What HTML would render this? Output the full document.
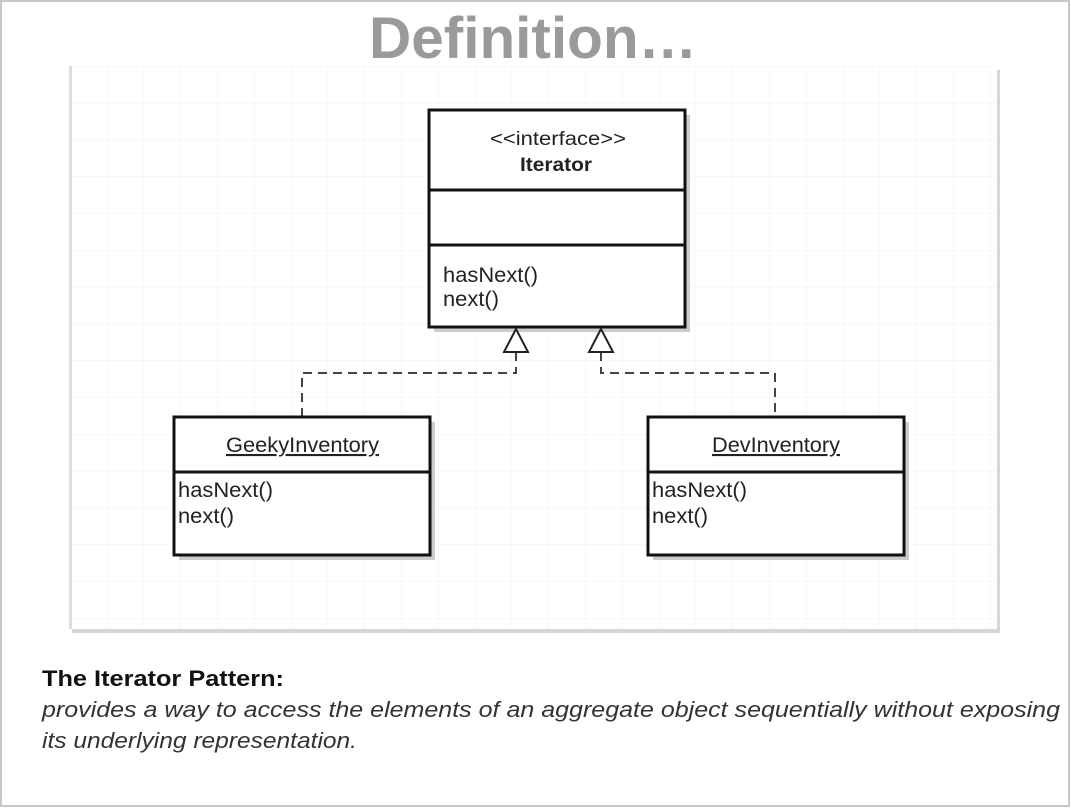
<!DOCTYPE html>
<html><head><style>
html,body{margin:0;padding:0;background:#fff;}
body{width:1071px;height:808px;overflow:hidden;position:relative;font-family:"Liberation Sans",sans-serif;}
</style></head><body>
<svg width="1071" height="808" viewBox="0 0 1071 808" xmlns="http://www.w3.org/2000/svg" style="position:absolute;left:0;top:0">
<defs>
<pattern id="g" x="70" y="66" width="36.8" height="36.8" patternUnits="userSpaceOnUse">
<path d="M0 0H36.8M0 0V36.8" stroke="#f0f0f4" stroke-width="1" fill="none"/>
</pattern>
</defs>
<rect x="1" y="1" width="1068" height="805" fill="#fff" stroke="#c8c8c8" stroke-width="2"/>
<text x="533" y="58" text-anchor="middle" font-family="Liberation Sans" font-weight="bold" font-size="58" fill="#9a9a9a" textLength="328" lengthAdjust="spacingAndGlyphs">Definition…</text>
<rect x="72" y="70" width="928" height="563" fill="#d6d6d6"/>
<rect x="70" y="66" width="927" height="563" fill="#fff"/>
<rect x="70" y="66" width="927" height="563" fill="url(#g)"/>
<rect x="69" y="66" width="3" height="563" fill="#ddd"/>
<!-- Iterator -->
<rect x="434" y="115" width="256" height="217" fill="#ccc"/>
<rect x="429" y="110" width="256" height="217" fill="#fff" stroke="#111" stroke-width="3"/>
<line x1="429" y1="190" x2="685" y2="190" stroke="#111" stroke-width="3"/>
<line x1="429" y1="245" x2="685" y2="245" stroke="#111" stroke-width="3"/>
<text x="490" y="145" font-size="19" fill="#222" textLength="136" lengthAdjust="spacingAndGlyphs">&lt;&lt;interface&gt;&gt;</text>
<text x="520" y="171" font-size="19" font-weight="bold" fill="#222" textLength="72" lengthAdjust="spacingAndGlyphs">Iterator</text>
<text x="443" y="282" font-size="21" fill="#222" textLength="95" lengthAdjust="spacingAndGlyphs">hasNext()</text>
<text x="443" y="306" font-size="21" fill="#222" textLength="56" lengthAdjust="spacingAndGlyphs">next()</text>
<!-- connectors -->
<polyline points="516,352 516,373 302,373 302,417" fill="none" stroke="#444" stroke-width="2" stroke-dasharray="9,6"/>
<polyline points="601,352 601,373 775,373 775,417" fill="none" stroke="#444" stroke-width="2" stroke-dasharray="9,6"/>
<polygon points="516,329 504,352 528,352" fill="#fff" stroke="#222" stroke-width="2"/>
<polygon points="601,329 589,352 613,352" fill="#fff" stroke="#222" stroke-width="2"/>
<!-- Geeky -->
<rect x="179" y="422" width="256" height="138" fill="#ccc"/>
<rect x="174" y="417" width="256" height="138" fill="#fff" stroke="#111" stroke-width="3"/>
<line x1="174" y1="472" x2="430" y2="472" stroke="#111" stroke-width="3"/>
<text x="226" y="452" font-size="21" fill="#222" text-decoration="underline" textLength="153" lengthAdjust="spacingAndGlyphs">GeekyInventory</text>
<text x="178" y="497" font-size="21" fill="#222" textLength="95" lengthAdjust="spacingAndGlyphs">hasNext()</text>
<text x="178" y="523" font-size="21" fill="#222" textLength="56" lengthAdjust="spacingAndGlyphs">next()</text>
<!-- Dev -->
<rect x="653" y="422" width="256" height="138" fill="#ccc"/>
<rect x="648" y="417" width="256" height="138" fill="#fff" stroke="#111" stroke-width="3"/>
<line x1="648" y1="472" x2="904" y2="472" stroke="#111" stroke-width="3"/>
<text x="712" y="452" font-size="21" fill="#222" text-decoration="underline" textLength="128" lengthAdjust="spacingAndGlyphs">DevInventory</text>
<text x="652" y="497" font-size="21" fill="#222" textLength="95" lengthAdjust="spacingAndGlyphs">hasNext()</text>
<text x="652" y="523" font-size="21" fill="#222" textLength="56" lengthAdjust="spacingAndGlyphs">next()</text>
<!-- caption -->
<text x="42" y="686" font-size="22" font-weight="bold" fill="#111" textLength="242" lengthAdjust="spacingAndGlyphs">The Iterator Pattern:</text>
<text x="42" y="717" font-size="22" font-style="italic" fill="#333" textLength="1018" lengthAdjust="spacingAndGlyphs">provides a way to access the elements of an aggregate object sequentially without exposing</text>
<text x="42" y="748" font-size="22" font-style="italic" fill="#333" textLength="315" lengthAdjust="spacingAndGlyphs">its underlying representation.</text>
</svg>
</body></html>
